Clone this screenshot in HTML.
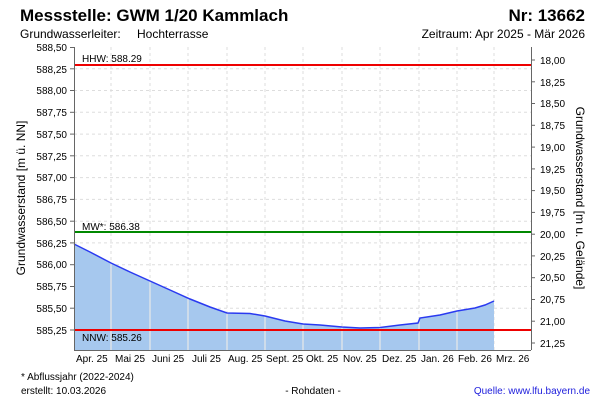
<!DOCTYPE html>
<html><head><meta charset="utf-8"><style>
body{margin:0;background:#fff;}
svg text{font-family:"Liberation Sans",Arial,sans-serif;}
</style></head><body>
<svg width="600" height="400" viewBox="0 0 600 400" xmlns="http://www.w3.org/2000/svg">
<rect width="600" height="400" fill="#fff"/>
<text x="20" y="21" font-size="17" font-weight="bold">Messstelle: GWM 1/20 Kammlach</text>
<text x="585" y="21" font-size="17" font-weight="bold" text-anchor="end">Nr: 13662</text>
<text x="20" y="38" font-size="12">Grundwasserleiter:</text>
<text x="137" y="38" font-size="12">Hochterrasse</text>
<text x="585" y="38" font-size="12" text-anchor="end">Zeitraum: Apr 2025 - Mär 2026</text>
<g stroke="#ddd" stroke-dasharray="3,3" stroke-width="1">
<line x1="74" x2="531" y1="68.8" y2="68.8"/><line x1="74" x2="531" y1="90.5" y2="90.5"/><line x1="74" x2="531" y1="112.3" y2="112.3"/><line x1="74" x2="531" y1="134.1" y2="134.1"/><line x1="74" x2="531" y1="155.8" y2="155.8"/><line x1="74" x2="531" y1="177.6" y2="177.6"/><line x1="74" x2="531" y1="199.4" y2="199.4"/><line x1="74" x2="531" y1="221.2" y2="221.2"/><line x1="74" x2="531" y1="242.9" y2="242.9"/><line x1="74" x2="531" y1="264.7" y2="264.7"/><line x1="74" x2="531" y1="286.5" y2="286.5"/><line x1="74" x2="531" y1="308.2" y2="308.2"/>
<line x1="111" x2="111" y1="47" y2="350"/><line x1="150" x2="150" y1="47" y2="350"/><line x1="188" x2="188" y1="47" y2="350"/><line x1="227" x2="227" y1="47" y2="350"/><line x1="265" x2="265" y1="47" y2="350"/><line x1="303" x2="303" y1="47" y2="350"/><line x1="342" x2="342" y1="47" y2="350"/><line x1="380" x2="380" y1="47" y2="350"/><line x1="419" x2="419" y1="47" y2="350"/><line x1="457" x2="457" y1="47" y2="350"/><line x1="494" x2="494" y1="47" y2="350"/>
</g>
<polygon fill="#a6c8ee" points="74,350 74,244 90,252 111,263 130,272 150,281 170,290 190,299 210,307 227,313 250,313.5 265,316 285,321 303,324 320,325 342,327 360,328 380,327.5 400,325 418,323 420,318 440,315 457,311 475,308 485,305 494,301 494,350"/>
<g stroke="#e8e8e8" stroke-width="1.2">
<line x1="111" x2="111" y1="263" y2="350"/><line x1="150" x2="150" y1="281" y2="350"/><line x1="188" x2="188" y1="298" y2="350"/><line x1="227" x2="227" y1="313" y2="350"/><line x1="265" x2="265" y1="316" y2="350"/><line x1="303" x2="303" y1="324" y2="350"/><line x1="342" x2="342" y1="327" y2="350"/><line x1="380" x2="380" y1="328" y2="350"/><line x1="419" x2="419" y1="320" y2="350"/><line x1="457" x2="457" y1="311" y2="350"/>
</g>
<polyline fill="none" stroke="#2a3af0" stroke-width="1.5" points="74,244 90,252 111,263 130,272 150,281 170,290 190,299 210,307 227,313 250,313.5 265,316 285,321 303,324 320,325 342,327 360,328 380,327.5 400,325 418,323 420,318 440,315 457,311 475,308 485,305 494,301"/>
<line x1="74" x2="531" y1="65" y2="65" stroke="#e00" stroke-width="2"/>
<line x1="74" x2="531" y1="232" y2="232" stroke="#080" stroke-width="2"/>
<line x1="74" x2="531" y1="330" y2="330" stroke="#e00" stroke-width="2"/>
<text x="82" y="62" font-size="10">HHW: 588.29</text>
<text x="82" y="230" font-size="10">MW*: 586.38</text>
<text x="82" y="341" font-size="10">NNW: 585.26</text>
<g stroke="#666" stroke-width="1" fill="none">
<line x1="74.5" x2="74.5" y1="47" y2="350"/><line x1="531.5" x2="531.5" y1="47" y2="350"/><line x1="74" x2="531" y1="350.5" y2="350.5"/>
</g>
<g font-size="10" text-anchor="end">
<text x="67" y="51">588,50</text><text x="67" y="73">588,25</text><text x="67" y="94">588,00</text><text x="67" y="116">587,75</text><text x="67" y="138">587,50</text><text x="67" y="160">587,25</text><text x="67" y="181">587,00</text><text x="67" y="203">586,75</text><text x="67" y="225">586,50</text><text x="67" y="247">586,25</text><text x="67" y="268">586,00</text><text x="67" y="290">585,75</text><text x="67" y="312">585,50</text><text x="67" y="334">585,25</text>
</g>
<g stroke="#666"><line x1="70" x2="74" y1="47.5" y2="47.5"/><line x1="70" x2="74" y1="68.8" y2="68.8"/><line x1="70" x2="74" y1="90.5" y2="90.5"/><line x1="70" x2="74" y1="112.3" y2="112.3"/><line x1="70" x2="74" y1="134.1" y2="134.1"/><line x1="70" x2="74" y1="155.8" y2="155.8"/><line x1="70" x2="74" y1="177.6" y2="177.6"/><line x1="70" x2="74" y1="199.4" y2="199.4"/><line x1="70" x2="74" y1="221.2" y2="221.2"/><line x1="70" x2="74" y1="242.9" y2="242.9"/><line x1="70" x2="74" y1="264.7" y2="264.7"/><line x1="70" x2="74" y1="286.5" y2="286.5"/><line x1="70" x2="74" y1="308.2" y2="308.2"/><line x1="70" x2="74" y1="330" y2="330"/>
<line x1="531" x2="535" y1="60" y2="60"/><line x1="531" x2="535" y1="81.8" y2="81.8"/><line x1="531" x2="535" y1="103.5" y2="103.5"/><line x1="531" x2="535" y1="125.3" y2="125.3"/><line x1="531" x2="535" y1="147.1" y2="147.1"/><line x1="531" x2="535" y1="168.9" y2="168.9"/><line x1="531" x2="535" y1="190.6" y2="190.6"/><line x1="531" x2="535" y1="212.4" y2="212.4"/><line x1="531" x2="535" y1="234.2" y2="234.2"/><line x1="531" x2="535" y1="255.9" y2="255.9"/><line x1="531" x2="535" y1="277.7" y2="277.7"/><line x1="531" x2="535" y1="299.5" y2="299.5"/><line x1="531" x2="535" y1="321.2" y2="321.2"/><line x1="531" x2="535" y1="343" y2="343"/></g>
<g font-size="10">
<text x="540" y="64">18,00</text><text x="540" y="86">18,25</text><text x="540" y="107">18,50</text><text x="540" y="129">18,75</text><text x="540" y="151">19,00</text><text x="540" y="173">19,25</text><text x="540" y="194">19,50</text><text x="540" y="216">19,75</text><text x="540" y="238">20,00</text><text x="540" y="260">20,25</text><text x="540" y="281">20,50</text><text x="540" y="303">20,75</text><text x="540" y="325">21,00</text><text x="540" y="347">21,25</text>
</g>
<text transform="translate(25,198) rotate(-90)" font-size="12" text-anchor="middle">Grundwasserstand [m ü. NN]</text>
<text transform="translate(576,198) rotate(90)" font-size="12" text-anchor="middle">Grundwasserstand [m u. Gelände]</text>
<g font-size="10">
<text x="76" y="362">Apr. 25</text><text x="115" y="362">Mai 25</text><text x="152" y="362">Juni 25</text><text x="192" y="362">Juli 25</text><text x="228" y="362">Aug. 25</text><text x="266" y="362">Sept. 25</text><text x="306" y="362">Okt. 25</text><text x="343" y="362">Nov. 25</text><text x="382" y="362">Dez. 25</text><text x="421" y="362">Jan. 26</text><text x="458" y="362">Feb. 26</text><text x="496" y="362">Mrz. 26</text>
</g>
<text x="21" y="380" font-size="10">* Abflussjahr (2022-2024)</text>
<text x="21" y="394" font-size="10">erstellt:  10.03.2026</text>
<text x="313" y="394" font-size="10" text-anchor="middle">- Rohdaten -</text>
<text x="590" y="394" font-size="10" text-anchor="end" fill="#1c1cdc">Quelle: www.lfu.bayern.de</text>
</svg>
</body></html>
